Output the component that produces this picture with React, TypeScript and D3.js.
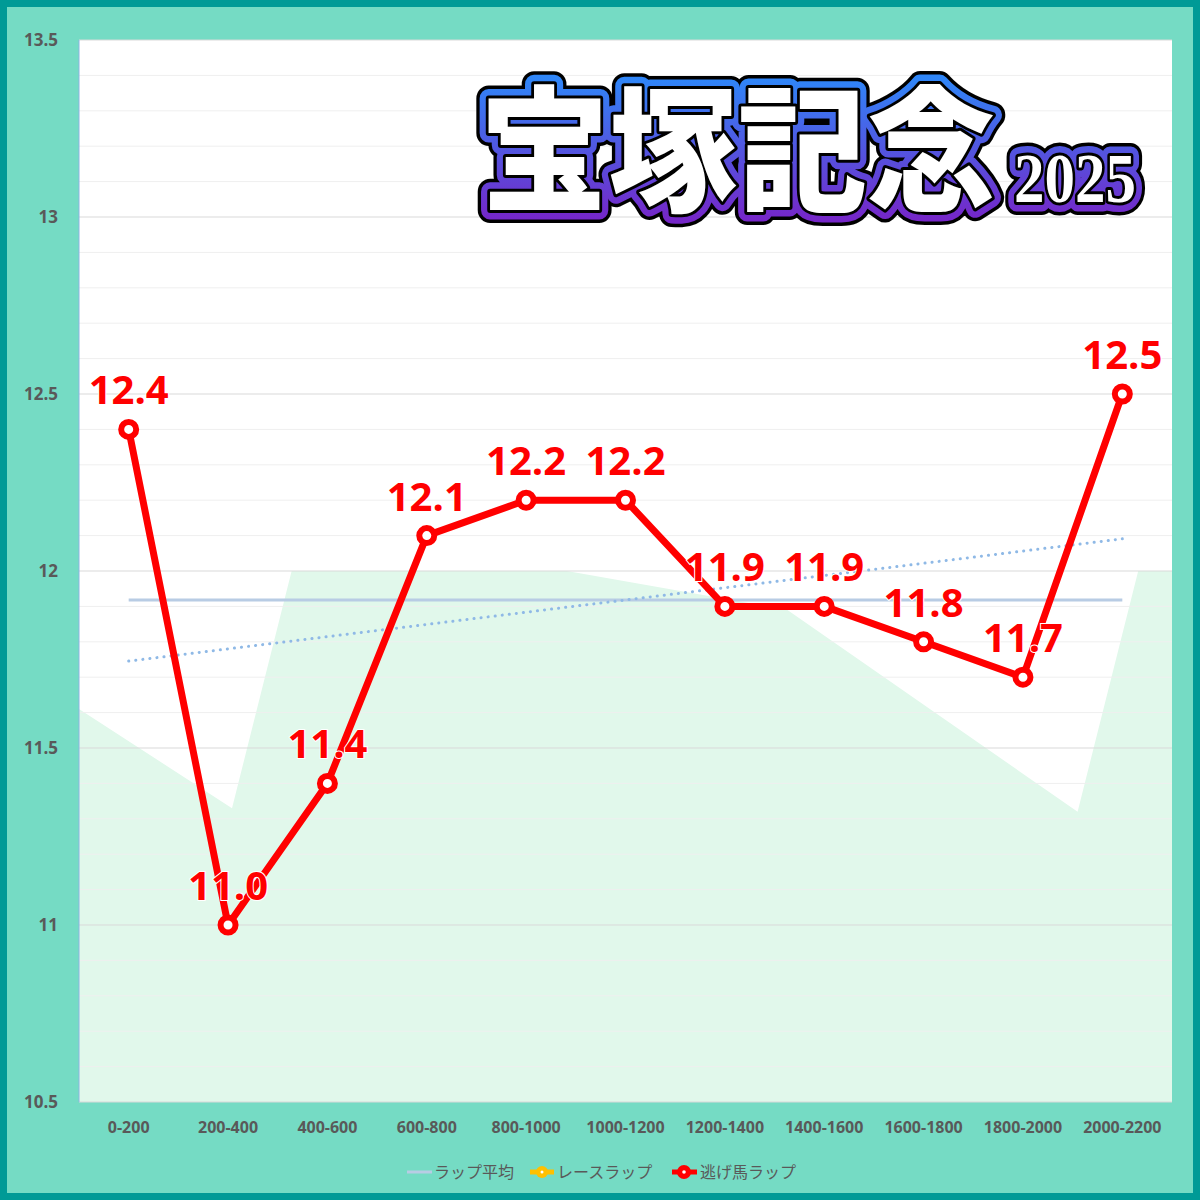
import React from "react";
import * as d3 from "d3";

const categories = ["0-200", "200-400", "400-600", "600-800", "800-1000", "1000-1200", "1200-1400", "1400-1600", "1600-1800", "1800-2000", "2000-2200"];
const leaderLap = [12.4, 11.0, 11.4, 12.1, 12.2, 12.2, 11.9, 11.9, 11.8, 11.7, 12.5];
const yTicks = [10.5, 11, 11.5, 12, 12.5, 13, 13.5];
// background band shape: position in category units (0..11) and value
const bgPos = [0, 1.54, 2.14, 4.91, 7.13, 10.05, 10.66, 11];
const bgVal = [11.61, 11.33, 12.0, 12.0, 11.89, 11.32, 12.0, 12.0];
const legendItems = ["ラップ平均", "レースラップ", "逃げ馬ラップ"];
const titleMain = "宝塚記念";
const titleYear = "2025";

const W = 1200, H = 1200;
const plot = { left: 79, right: 1172, top: 40, bottom: 1102 };

export default function App() {
  const x = d3.scalePoint<string>().domain(categories).range([plot.left, plot.right]).padding(0.5);
  const u = d3.scaleLinear().domain([0, categories.length]).range([plot.left, plot.right]);
  const y = d3.scaleLinear().domain([10.5, 13.5]).range([plot.bottom, plot.top]);

  const minor = d3.range(105, 136).map((v) => v / 10).filter((v) => Math.abs(v * 2 - Math.round(v * 2)) > 1e-6);

  const bgPts: [number, number][] = bgPos.map((p, i) => [u(p), y(bgVal[i])]);
  const bgArea = d3.area<[number, number]>().x((d) => d[0]).y0(y(10.5)).y1((d) => d[1])(bgPts) || "";

  const line = d3.line<number>().x((_, i) => x(categories[i])!).y((d) => y(d))(leaderLap) || "";

  const mean = d3.mean(leaderLap)!;
  const n = leaderLap.length;
  const xm = (n - 1) / 2;
  let sxy = 0, sxx = 0;
  leaderLap.forEach((v, i) => { sxy += (i - xm) * (v - mean); sxx += (i - xm) * (i - xm); });
  const slope = sxy / sxx;
  const trend = (i: number) => mean + slope * (i - xm);

  const x0 = x(categories[0])!, x1 = x(categories[n - 1])!;
  const axisFont = "'Open Sans', 'Noto Sans', sans-serif";
  const jpFont = "'Noto Sans CJK JP', 'Noto Sans', sans-serif";

  const legendX = [407, 530, 672];

  return (
    <div style={{ position: "absolute", left: 0, top: 0 }}>
      <svg width={W} height={H} style={{ display: "block" }}>
        <defs>
          <linearGradient id="tg" x1="0" y1="78" x2="0" y2="220" gradientUnits="userSpaceOnUse">
            <stop offset="0" stopColor="#2f86f8" />
            <stop offset="1" stopColor="#7526c8" />
          </linearGradient>
          <clipPath id="pc">
            <rect x={plot.left} y={plot.top} width={plot.right - plot.left} height={plot.bottom - plot.top} />
          </clipPath>
        </defs>
        <rect x={0} y={0} width={W} height={H} fill="#009a96" />
        <rect x={7} y={7} width={W - 14} height={H - 14} fill="#75dbc4" />
        <rect x={plot.left} y={plot.top} width={plot.right - plot.left} height={plot.bottom - plot.top} fill="#ffffff" />
        <path d={bgArea} fill="#e1f8eb" clipPath="url(#pc)" />
        {minor.map((v) => (
          <line key={"m" + v} x1={plot.left} x2={plot.right} y1={y(v)} y2={y(v)} stroke="#efefef" strokeWidth={1} />
        ))}
        {yTicks.map((v) => (
          <line key={"g" + v} x1={plot.left} x2={plot.right} y1={y(v)} y2={y(v)} stroke="#d9d9d9" strokeWidth={1} />
        ))}
        <line x1={plot.left} x2={plot.left} y1={plot.top} y2={plot.bottom} stroke="#8db4e2" strokeWidth={1} />
        {yTicks.map((v) => (
          <text key={"yl" + v} x={58} y={y(v)} dy="0.35em" textAnchor="end" fontFamily={axisFont} fontWeight={700} fontSize={17} fill="#595959">
            {String(v)}
          </text>
        ))}
        {categories.map((c) => (
          <text key={"xl" + c} x={x(c)!} y={1133} textAnchor="middle" fontFamily={axisFont} fontWeight={700} fontSize={16} fill="#595959">
            {c}
          </text>
        ))}
        {/* average */}
        <line x1={x0} x2={x1} y1={y(mean)} y2={y(mean)} stroke="#b8cce4" strokeWidth={3} />
        {/* trend */}
        <line x1={x0} x2={x1} y1={y(trend(0))} y2={y(trend(n - 1))} stroke="#8fb9e6" strokeWidth={3} strokeDasharray="0.1 7" strokeLinecap="round" />
        {/* title */}
        <g fontFamily="'Noto Sans CJK JP', sans-serif" fontWeight={900}>
          {[
            { stroke: "#000", w: 26 },
            { stroke: "url(#tg)", w: 19 },
            { stroke: "#000", w: 6 },
          ].map((l, i) => (
            <g key={"t" + i} fill="none" stroke={l.stroke} strokeWidth={l.w} strokeLinejoin="round">
              <text x={480} y={201} fontSize={136} textLength={516} lengthAdjust="spacingAndGlyphs">{titleMain}</text>
              <text x={1014} y={202} fontSize={70} fontFamily="'Liberation Serif', serif" fontWeight={700} textLength={122} lengthAdjust="spacingAndGlyphs">{titleYear}</text>
            </g>
          ))}
          <g fill="#ffffff">
            <text x={480} y={201} fontSize={136} textLength={516} lengthAdjust="spacingAndGlyphs">{titleMain}</text>
            <text x={1014} y={202} fontSize={70} fontFamily="'Liberation Serif', serif" fontWeight={700} textLength={122} lengthAdjust="spacingAndGlyphs">{titleYear}</text>
          </g>
        </g>
        {/* leader lap */}
        <path d={line} fill="none" stroke="#ff0000" strokeWidth={7} strokeLinejoin="round" />
        {leaderLap.map((v, i) => (
          <circle key={"c" + i} cx={x(categories[i])!} cy={y(v)} r={7.5} fill="#ffffff" stroke="#ff0000" strokeWidth={6} />
        ))}
        {leaderLap.map((v, i) => (
          <text key={"l" + i} x={x(categories[i])!} y={y(v) - 25} textAnchor="middle" fontFamily={axisFont} fontWeight={700} fontSize={40} fill="#ff0000" stroke="#ffffff" strokeWidth={2} paintOrder="stroke">
            {v.toFixed(1)}
          </text>
        ))}
        {/* legend */}
        <g fontFamily={jpFont} fontSize={16} fill="#595959">
          <line x1={legendX[0]} x2={legendX[0] + 25} y1={1172} y2={1172} stroke="#b8cce4" strokeWidth={3} />
          <text x={legendX[0] + 27} y={1172} dy="0.35em">{legendItems[0]}</text>
          <line x1={legendX[1]} x2={legendX[1] + 24} y1={1172} y2={1172} stroke="#ffc000" strokeWidth={5} />
          <circle cx={legendX[1] + 12} cy={1172} r={6} fill="#ffc000" />
          <circle cx={legendX[1] + 12} cy={1172} r={1.5} fill="#ffffff" />
          <text x={legendX[1] + 27} y={1172} dy="0.35em">{legendItems[1]}</text>
          <line x1={legendX[2]} x2={legendX[2] + 25} y1={1172} y2={1172} stroke="#ff0000" strokeWidth={5} />
          <circle cx={legendX[2] + 12} cy={1172} r={7} fill="#ff0000" />
          <circle cx={legendX[2] + 12} cy={1172} r={1.8} fill="#ffffff" />
          <text x={legendX[2] + 28} y={1172} dy="0.35em">{legendItems[2]}</text>
        </g>
      </svg>
    </div>
  );
}
